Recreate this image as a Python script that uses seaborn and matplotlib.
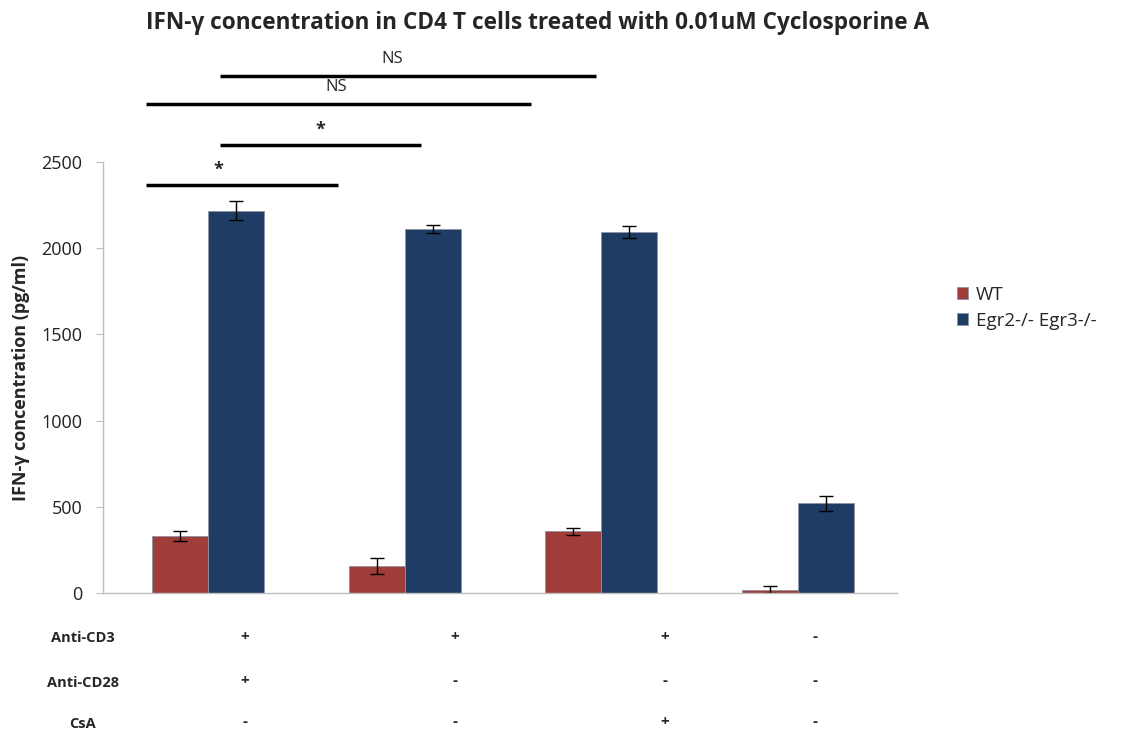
import numpy as np
import pandas as pd
import matplotlib
matplotlib.use("Agg")
import matplotlib.pyplot as plt
import seaborn as sns

# data
conditions = ["c1", "c2", "c3", "c4"]
genotypes = ["WT", "Egr2-/- Egr3-/-"]
wt_mean = [330, 157, 358, 20]
wt_err = [27, 44, 20, 20]
ko_mean = [2217, 2111, 2094, 520]
ko_err = [55, 25, 33, 45]

# treatment table under the axis
row_labels = ["Anti-CD3", "Anti-CD28", "CsA"]
anti_cd3 = ["+", "+", "+", "-"]
anti_cd28 = ["+", "-", "-", "-"]
csa = ["-", "-", "+", "-"]

# significance brackets: (x start, x end, y line, label)
sig_x0 = [-0.315, 0.061, -0.315, 0.061]
sig_x1 = [0.661, 1.083, 1.642, 1.973]
sig_y = [2367, 2599, 2836, 2999]
sig_text = ["*", "*", "NS", "NS"]
sig_shift = [-0.12, 0.0, -0.01, -0.08]  # label offset from line centre

colors = ["#A03C39", "#1F3C64"]

df = pd.DataFrame({
    "condition": conditions * 2,
    "genotype": [genotypes[0]] * 4 + [genotypes[1]] * 4,
    "value": wt_mean + ko_mean,
})

sns.set_style("white")
plt.rcParams["font.family"] = ["Open Sans", "DejaVu Sans"]

fig = plt.figure(figsize=(11.34, 7.31), dpi=100)
ax = fig.add_axes([0.0908, 0.1888, 0.7, 0.5896])

sns.barplot(data=df, x="condition", y="value", hue="genotype", palette=colors,
            saturation=1, width=0.57, ax=ax, edgecolor="#8a94a3", linewidth=0.6,
            errorbar=None)

errs = [wt_err, ko_err]
for cont, err in zip(ax.containers, errs):
    xs = [p.get_x() + p.get_width() / 2 for p in cont.patches]
    ys = [p.get_height() for p in cont.patches]
    ax.errorbar(xs, ys, yerr=err, fmt="none", ecolor="black", elinewidth=1,
                capsize=5, capthick=1)

ax.set_xlim(-0.534, 3.503)
ax.set_ylim(0, 2500)
ax.set_yticks([0, 500, 1000, 1500, 2000, 2500])
ax.tick_params(axis="y", labelsize=13, left=True, length=5, pad=10, color="#bfbfbf",
               labelcolor="#222222")
ax.tick_params(axis="x", bottom=False, labelbottom=False)
ax.set_xlabel("")
ax.set_ylabel("IFN-γ concentration (pg/ml)", fontsize=13, fontweight="bold", labelpad=8)
for s in ["top", "right"]:
    ax.spines[s].set_visible(False)
for s in ["left", "bottom"]:
    ax.spines[s].set_color("#bfbfbf")
    ax.spines[s].set_linewidth(1)

# significance lines
for x0, x1, y, t, dx in zip(sig_x0, sig_x1, sig_y, sig_text, sig_shift):
    ax.plot([x0, x1], [y, y], color="black", lw=2.5, clip_on=False, solid_capstyle="butt")
    if t == "*":
        ax.text((x0 + x1) / 2 + dx, y + 34, t, ha="center", va="bottom",
                fontsize=13, fontweight="bold")
    else:
        ax.text((x0 + x1) / 2 + dx, y + 50, t, ha="center", va="bottom", fontsize=12)

fig.text(0.474, 0.968, "IFN-γ concentration in CD4 T cells treated with 0.01uM Cyclosporine A",
         ha="center", va="center", fontsize=16.3, fontweight="bold")

handles, labels = ax.get_legend_handles_labels()
ax.legend(handles, labels, loc="center left", bbox_to_anchor=(0.829, 0.579),
          bbox_transform=fig.transFigure, frameon=False, fontsize=13.5,
          handlelength=0.6, handleheight=0.6, handletextpad=0.4, labelspacing=0.45)

# treatment table
col_x = [0.216, 0.401, 0.586, 0.719]
row_y = [0.127, 0.066, 0.010]
for label, y, signs in zip(row_labels, row_y, [anti_cd3, anti_cd28, csa]):
    fig.text(0.073, y, label, ha="center", va="center", fontsize=10.5, fontweight="bold")
    for x, s in zip(col_x, signs):
        fig.text(x, y + 0.002, s, ha="center", va="center", fontsize=11, fontweight="bold")

fig.savefig("out.png", dpi=100)
